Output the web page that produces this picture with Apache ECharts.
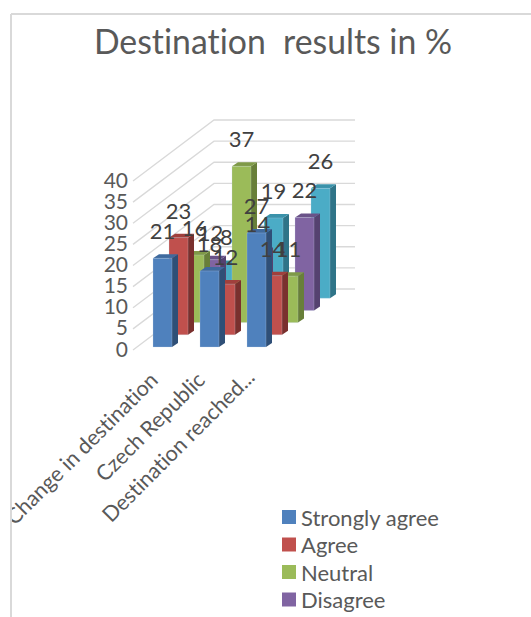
<!DOCTYPE html>
<html>
<head>
<meta charset="utf-8">
<style>html,body{margin:0;padding:0;background:#fff}#c{width:531px;height:617px}#c text{font-variant-ligatures:none}</style>
<script src="https://cdn.jsdelivr.net/npm/echarts@6/dist/echarts.min.js"></script>
</head>
<body>
<div id="c"></div>
<script>
var categories = ['Change in destination', 'Czech Republic', 'Destination reached...'];
var yTicks = [0, 5, 10, 15, 20, 25, 30, 35, 40];
var seriesNames = ['Strongly agree', 'Agree', 'Neutral', 'Disagree', 'Strongly disagree'];
var stronglyAgree = [21, 18, 27];
var agree = [23, 12, 14];
var neutral = [16, 37, 11];
var disagree = [12, 14, 22];
var stronglyDisagree = [8, 19, 26];
var seriesValues = [stronglyAgree, agree, neutral, disagree, stronglyDisagree];
var colors = ['#4f81bd', '#c0504d', '#9bbb59', '#8064a2', '#4bacc6'];
var sideColors = ['#2f4f77', '#7a302e', '#687f39', '#554270', '#2f7488'];
var topColors = ['#3f6a9e', '#a03f3c', '#7f9a48', '#6a5288', '#3a92aa'];
var textColor = '#595959';
var labelColor = '#404040';
var fontFamily = 'Lato, "Open Sans", sans-serif';

/* oblique projection of the depth axis */
var depthX = 81, depthY = -61, wallWidth = 141;
var stepX = 16, stepY = -12.2, startX = 6, startY = -3;
var barWidth = 19, capX = 6, capY = -4;

function pts(a) { return { points: a }; }

function renderWall(params, api) {
  var p = api.coord([0, api.value(0)]);
  var x = params.coordSys.x, y = p[1];
  return {
    type: 'polyline',
    z2: 0,
    shape: { points: [[x, y], [x + depthX, y + depthY], [x + depthX + wallWidth, y + depthY]] },
    style: { stroke: '#d9d9d9', lineWidth: 1.3, fill: null }
  };
}

function makeRender(s) {
  return function (params, api) {
    var c = api.value(0), v = api.value(1);
    var top = api.coord([c, v]), base = api.coord([c, 0]);
    var band = api.size([1, 0])[0];
    var x0 = top[0] - band / 2 + 20 + stepX * s;
    var off = startY + stepY * s;
    var x1 = x0 + barWidth, yT = top[1] + off, yB = base[1] + off;
    var z = 20 - s * 2;
    return {
      type: 'group',
      children: [
        { type: 'polygon', z2: z, shape: pts([[x1, yT], [x1 + capX, yT + capY], [x1 + capX, yB + capY], [x1, yB]]), style: { fill: sideColors[s] } },
        { type: 'polygon', z2: z, shape: pts([[x0, yT], [x0 + capX, yT + capY], [x1 + capX, yT + capY], [x1, yT]]), style: { fill: topColors[s] } },
        { type: 'rect', z2: z, shape: { x: x0, y: yT, width: barWidth, height: yB - yT }, style: { fill: colors[s], stroke: 'rgba(200,215,235,0.5)', lineWidth: 0.5 } },
        { type: 'text', z2: 100, style: { x: x0 + barWidth / 2, y: yT - 27.5, text: String(v), fill: labelColor, font: '22px ' + fontFamily, textAlign: 'center', textVerticalAlign: 'middle' } }
      ]
    };
  };
}

var series = [{
  name: 'walls',
  type: 'custom',
  silent: true,
  data: yTicks.map(function (t) { return [t]; }),
  encode: { y: 0 },
  renderItem: renderWall
}];
seriesNames.forEach(function (name, s) {
  series.push({
    name: name,
    type: 'custom',
    itemStyle: { color: colors[s] },
    data: seriesValues[s].map(function (v, i) { return [i, v]; }),
    encode: { x: 0, y: 1 },
    renderItem: makeRender(s)
  });
});

var richX = { color: textColor, fontFamily: fontFamily, fontSize: 21.5 };
var chart = echarts.init(document.getElementById('c'), null, { renderer: 'svg' });
chart.setOption({
  animation: false,
  backgroundColor: '#fff',
  title: {
    text: 'Destination  results in %',
    left: 268, top: 19, textAlign: 'center',
    textStyle: { color: textColor, fontFamily: fontFamily, fontWeight: 'normal', fontSize: 33.8 }
  },
  grid: { left: 133, top: 181, width: wallWidth, height: 169, containLabel: false, outerBoundsMode: 'none' },
  xAxis: {
    type: 'category',
    data: categories,
    axisLine: { show: false },
    axisTick: { show: false },
    splitLine: { show: false },
    axisLabel: {
      interval: 0, rotate: 45, margin: 23, hideOverlap: false,
      color: textColor, fontFamily: fontFamily, fontSize: 21.5,
      formatter: function (v, i) { return (i < 2 ? '{a|' : '{b|') + v + '}'; },
      rich: {
        a: Object.assign({ padding: [0, 4, 0, 0] }, richX),
        b: richX
      }
    }
  },
  yAxis: {
    type: 'value',
    min: 0, max: 40, interval: 5,
    axisLine: { show: false },
    axisTick: { show: false },
    splitLine: { show: false },
    axisLabel: { margin: 5, color: textColor, fontFamily: fontFamily, fontSize: 21, verticalAlign: 'bottom', lineHeight: 4 }
  },
  legend: {
    orient: 'vertical',
    left: 282, top: 506, padding: 0,
    width: 200, height: 200,
    itemWidth: 14, itemHeight: 14, itemGap: 5.5,
    icon: 'rect',
    data: seriesNames.slice(0, 4),
    textStyle: { color: textColor, fontFamily: fontFamily, fontSize: 22 }
  },
  graphic: [
    { type: 'rect', z: 50, silent: true, shape: { x: 0, y: 0, width: 10, height: 617 }, style: { fill: '#fff' } },
    { type: 'line', z: 50, silent: true, shape: { x1: 11, y1: 14, x2: 531, y2: 14 }, style: { stroke: '#d9d9d9', lineWidth: 2 } },
    { type: 'line', z: 50, silent: true, shape: { x1: 11, y1: 14, x2: 11, y2: 617 }, style: { stroke: '#d9d9d9', lineWidth: 2 } }
  ],
  series: series
});
</script>
</body>
</html>
